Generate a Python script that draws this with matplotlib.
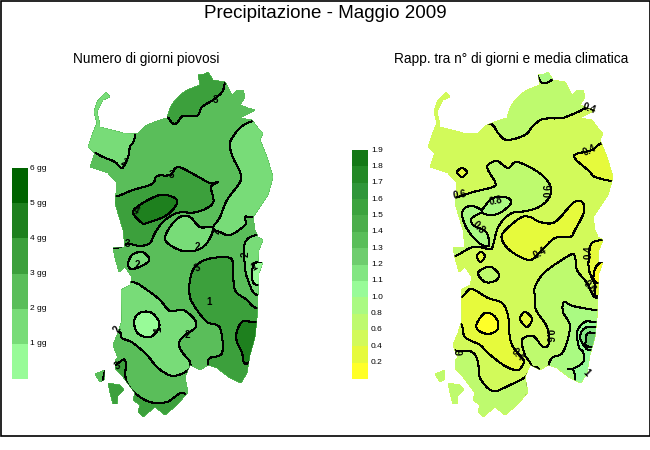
import matplotlib

matplotlib.use("Agg")
import matplotlib.pyplot as plt
from matplotlib.patches import PathPatch, Rectangle
from matplotlib.path import Path

plt.rcParams["font.family"] = ["Liberation Sans", "DejaVu Sans"]

# map outline (left map, image pixels)
coast_main = [(106, 92), (110, 97), (103, 100), (100, 106), (97, 112), (99, 120), (100, 127), (112, 130),
              (123, 133), (137, 134), (147, 125), (157, 121), (167, 118), (170, 108), (173, 103), (180, 95),
              (187, 90), (200, 85), (198, 75), (204, 74), (208, 72), (213, 80), (225, 82), (232, 95),
              (237, 90), (243, 90), (245, 97), (240, 105), (248, 108), (255, 110), (240, 118), (252, 120),
              (258, 128), (263, 133), (260, 140), (267, 157), (273, 177), (268, 195), (260, 207), (253, 217),
              (255, 230), (258, 237), (263, 240), (259, 250), (258, 262), (263, 262), (259, 273), (258, 295),
              (257, 318), (255, 337), (250, 355), (247, 373), (241, 383), (230, 378), (217, 368), (208, 365),
              (200, 370), (190, 365), (185, 377), (188, 392), (177, 405), (165, 415), (155, 407), (143, 417),
              (138, 412), (140, 405), (133, 400), (135, 393), (123, 377), (115, 368), (115, 360), (118, 358),
              (113, 345), (118, 333), (122, 320), (121, 290), (130, 285), (132, 277), (125, 267), (119, 272),
              (115, 258), (113, 248), (125, 247), (123, 230), (115, 203), (117, 183), (108, 173), (90, 167),
              (95, 153), (88, 147), (92, 135), (97, 123), (94, 112), (97, 102), (102, 96)]
coast_antioco = [(108, 383), (120, 385), (124, 390), (118, 396), (117, 404), (113, 404), (110, 393)]
coast_pietro = [(95, 374), (105, 370), (104, 380), (100, 382)]
RIGHT_SHIFT = 340

# left map, days of rain
days_colors = ["#98fb98", "#78dc78", "#5abe5a", "#3ca03c", "#1e801e", "#006400"]
days_labels = ["1 gg", "2 gg", "3 gg", "4 gg", "5 gg", "6 gg"]
days_regions = [
    (1, [(135, 134), (130, 147), (128, 157), (122, 168), (115, 162), (103, 157), (95, 153), (80, 150), (80, 80), (135, 80)]),
    (3, [(167, 117), (172, 123), (177, 123), (183, 116), (197, 116), (202, 107), (213, 100), (222, 92), (225, 82), (230, 60), (150, 60), (150, 110)]),
    (1, [(250, 122), (231, 140), (232, 155), (240, 172), (240, 182), (227, 200), (220, 217), (213, 228), (220, 232), (230, 235), (245, 225), (245, 217), (253, 217), (290, 217), (290, 122)]),
    (1, [(213, 228), (200, 227), (190, 217), (180, 217), (170, 227), (165, 238), (170, 245), (183, 251), (197, 250), (207, 243)]),
    (1, [(257, 235), (245, 243), (245, 267), (248, 280), (257, 295), (285, 295), (285, 235)]),
    (0, [(258, 262), (253, 267), (252, 277), (257, 285), (285, 285), (285, 262)]),
    (3, [(117, 196), (133, 190), (152, 184), (157, 176), (170, 175), (178, 167), (195, 175), (210, 183), (218, 182), (211, 187), (213, 203), (197, 212), (177, 213), (163, 222), (155, 233), (150, 243), (140, 246), (128, 244), (115, 248), (100, 240), (100, 196)]),
    (4, [(133, 212), (143, 203), (160, 195), (173, 197), (177, 203), (167, 215), (147, 223), (142, 223)]),
    (1, [(128, 265), (132, 255), (142, 252), (149, 258), (147, 263), (133, 269)]),
    (3, [(195, 267), (190, 280), (190, 297), (197, 310), (207, 322), (220, 328), (222, 353), (210, 358), (208, 365), (208, 400), (285, 400), (285, 308), (257, 308), (247, 300), (235, 290), (233, 270), (230, 258), (208, 259)]),
    (4, [(255, 322), (242, 322), (236, 337), (242, 353), (244, 362), (250, 362), (285, 340), (285, 322)]),
    (1, [(132, 282), (147, 290), (160, 300), (170, 311), (183, 310), (195, 320), (195, 328), (185, 335), (179, 343), (182, 352), (190, 362), (188, 370), (173, 376), (158, 368), (147, 355), (133, 343), (122, 338), (119, 332), (100, 330), (100, 282)]),
    (0, [(135, 318), (142, 312), (152, 313), (159, 322), (158, 330), (150, 337), (140, 335), (135, 328)]),
    (3, [(115, 365), (125, 360), (126, 380), (135, 393), (150, 402), (167, 402), (185, 394), (200, 430), (106, 430), (106, 365)]),
]
days_tags = [("3", 215, 100, 0), ("2", 124, 163, -30), ("3", 171, 175, 0), ("4", 136, 211, -30), ("2", 217, 231, 90),
             ("3", 127, 244, 0), ("2", 197, 247, 0), ("2", 137, 265, 0), ("2", 246, 254, 90), ("1", 254, 267, 30),
             ("3", 198, 268, 30), ("1", 209, 302, 0), ("1", 158, 329, 90), ("2", 187, 335, 0), ("2", 117, 329, 60),
             ("3", 118, 366, 30)]

# right map, ratio to the climatic mean
ratio_colors = ["#ffff28", "#e6fa3c", "#d2fa5a", "#befa6e", "#aafa82", "#98fb98", "#82e682", "#6ecd6e",
                "#5abe5a", "#4bae4b", "#3ca33e", "#30963a", "#238926", "#147816"]
ratio_labels = ["0.2", "0.4", "0.6", "0.8", "1.0", "1.1", "1.2", "1.3", "1.4", "1.5", "1.6", "1.7", "1.8", "1.9"]
ratio_regions = [
    (3, [(491, 124), (498, 133), (507, 140), (525, 135), (533, 126), (543, 119), (562, 118), (578, 112), (588, 108), (610, 110), (620, 50), (470, 50), (470, 120)]),
    (4, [(541, 82), (554, 78), (560, 60), (535, 60)]),
    (1, [(603, 143), (592, 150), (574, 156), (588, 170), (598, 178), (630, 180), (630, 143)]),
    (1, [(457, 172), (462, 168), (467, 172), (462, 177)]),
    (3, [(457, 197), (473, 192), (493, 187), (495, 182), (488, 170), (488, 165), (497, 161), (508, 168), (517, 162), (538, 172), (550, 185), (549, 198), (537, 208), (520, 212), (512, 213), (503, 220), (497, 230), (493, 245), (490, 249), (473, 247), (455, 256), (440, 256), (440, 197)]),
    (4, [(482, 212), (490, 200), (498, 197), (508, 198), (511, 203), (503, 211), (493, 215)]),
    (4, [(465, 208), (472, 206), (480, 209), (482, 212), (472, 218), (473, 225), (486, 232), (489, 245), (482, 245), (473, 237), (466, 227), (462, 215)]),
    (1, [(477, 256), (481, 252), (485, 256), (482, 261), (479, 261)]),
    (1, [(503, 233), (520, 218), (530, 217), (540, 222), (555, 222), (573, 203), (582, 202), (584, 212), (575, 230), (570, 237), (555, 238), (542, 250), (530, 260), (512, 252), (503, 242)]),
    (3, [(478, 273), (487, 267), (493, 268), (499, 275), (495, 281), (485, 282)]),
    (1, [(604, 240), (592, 243), (589, 255), (589, 270), (595, 285), (598, 297), (630, 297), (630, 240)]),
    (0, [(602, 262), (594, 273), (598, 283), (630, 283), (630, 262)]),
    (3, [(598, 298), (592, 293), (587, 283), (577, 270), (575, 257), (570, 255), (545, 272), (535, 287), (535, 298), (536, 310), (547, 327), (549, 343), (543, 347), (533, 336), (522, 340), (525, 355), (532, 368), (532, 400), (630, 400), (630, 298)]),
    (4, [(597, 310), (573, 306), (564, 302), (563, 312), (570, 327), (563, 352), (552, 358), (548, 370), (548, 400), (630, 400), (630, 310)]),
    (5, [(597, 322), (585, 322), (577, 332), (579, 347), (583, 352), (584, 360), (580, 365), (572, 369), (568, 369), (573, 370), (575, 378), (575, 400), (630, 400), (630, 322)]),
    (6, [(598, 327), (585, 328), (580, 337), (585, 347), (592, 350), (630, 350), (630, 327)]),
    (7, [(598, 333), (588, 333), (586, 340), (590, 347), (630, 347), (630, 333)]),
    (1, [(461, 297), (471, 289), (488, 298), (502, 303), (508, 315), (509, 330), (512, 345), (522, 358), (524, 362), (518, 370), (505, 366), (488, 353), (480, 345), (465, 337), (460, 323), (440, 323), (440, 297)]),
    (0, [(477, 323), (485, 313), (493, 315), (498, 322), (497, 330), (488, 334), (478, 330)]),
    (1, [(520, 319), (525, 312), (532, 319), (527, 327)]),
    (3, [(458, 351), (472, 352), (478, 362), (480, 378), (493, 391), (510, 385), (525, 377), (532, 368), (540, 375), (540, 440), (425, 440), (425, 351)]),
]
ratio_tags = [("0.4", 589, 109, -20), ("0.4", 590, 150, 25), ("0.6", 549, 190, 90), ("0.6", 460, 195, 10),
              ("0.8", 496, 201, 10), ("0.8", 479, 228, -45), ("0.4", 540, 253, 30), ("0.4", 589, 252, 90),
              ("0.6", 590, 287, -45), ("0.6", 549, 336, -90), ("0.4", 518, 355, -45), ("6", 461, 352, 90),
              ("1", 586, 373, -45)]


def island_path(shift):
    verts, codes = [], []
    for ring in [coast_main, coast_antioco, coast_pietro]:
        verts += [(x + shift, y) for x, y in ring] + [(ring[0][0] + shift, ring[0][1])]
        codes += [Path.MOVETO] + [Path.LINETO] * (len(ring) - 1) + [Path.CLOSEPOLY]
    return Path(verts, codes)


def smooth_ring(poly):
    # closed bezier through the traced points, contours are round in the picture
    n = len(poly)
    verts = [poly[0]]
    codes = [Path.MOVETO]
    for i in range(n):
        p0, p1, p2, p3 = poly[i - 1], poly[i], poly[(i + 1) % n], poly[(i + 2) % n]
        c1 = (p1[0] + (p2[0] - p0[0]) / 6, p1[1] + (p2[1] - p0[1]) / 6)
        c2 = (p2[0] - (p3[0] - p1[0]) / 6, p2[1] - (p3[1] - p1[1]) / 6)
        verts += [c1, c2, p2]
        codes += [Path.CURVE4] * 3
    return Path(verts, codes)


def draw_map(ax, shift, base_color, regions, colors, tags):
    land = PathPatch(island_path(shift), facecolor=base_color, edgecolor="none", antialiased=False)
    ax.add_patch(land)
    # each band is a polygon that runs out to sea and gets cut by the coast
    for level, poly in regions:
        shape = PathPatch(smooth_ring(poly), facecolor=colors[level], edgecolor="black", linewidth=0.75, antialiased=False)
        ax.add_patch(shape)
        shape.set_clip_path(land)
    for text, x, y, rot in tags:
        ax.text(x, y, text, fontsize=7, fontweight="bold", rotation=rot, ha="center", va="center", color="black")


def draw_legend(ax, x, top, bottom, colors, labels, label_x, fontsize):
    step = (bottom - top) / len(colors)
    for i, (color, label) in enumerate(zip(colors, labels)):
        y = bottom - (i + 1) * step
        ax.add_patch(Rectangle((x, y), 16, step, facecolor=color, edgecolor="none", antialiased=False))
        ax.text(label_x, y, label, fontsize=fontsize, ha="left", va="center", color="black")


fig = plt.figure(figsize=(6.5, 4.5), dpi=100)
ax = fig.add_axes([0, 0, 1, 1])
ax.set_xlim(0, 650)
ax.set_ylim(450, 0)
ax.axis("off")

ax.add_patch(Rectangle((0.5, 0.5), 649, 435.5, facecolor="white", edgecolor="black", linewidth=1.2))

ax.text(325, 13, "Precipitazione - Maggio 2009", fontsize=13.5, ha="center", va="center")
ax.text(146, 59, "Numero di giorni piovosi", fontsize=9.8, ha="center", va="center")
ax.text(511, 59, "Rapp. tra n° di giorni e media climatica", fontsize=9.8, ha="center", va="center")

draw_map(ax, 0, days_colors[2], days_regions, days_colors, days_tags)
draw_map(ax, RIGHT_SHIFT, ratio_colors[2], ratio_regions, ratio_colors, ratio_tags)

draw_legend(ax, 12, 168, 379, days_colors, days_labels, 30, 6)
draw_legend(ax, 352, 150, 379, ratio_colors, ratio_labels, 371, 6)

fig.savefig("out.png", dpi=100)
